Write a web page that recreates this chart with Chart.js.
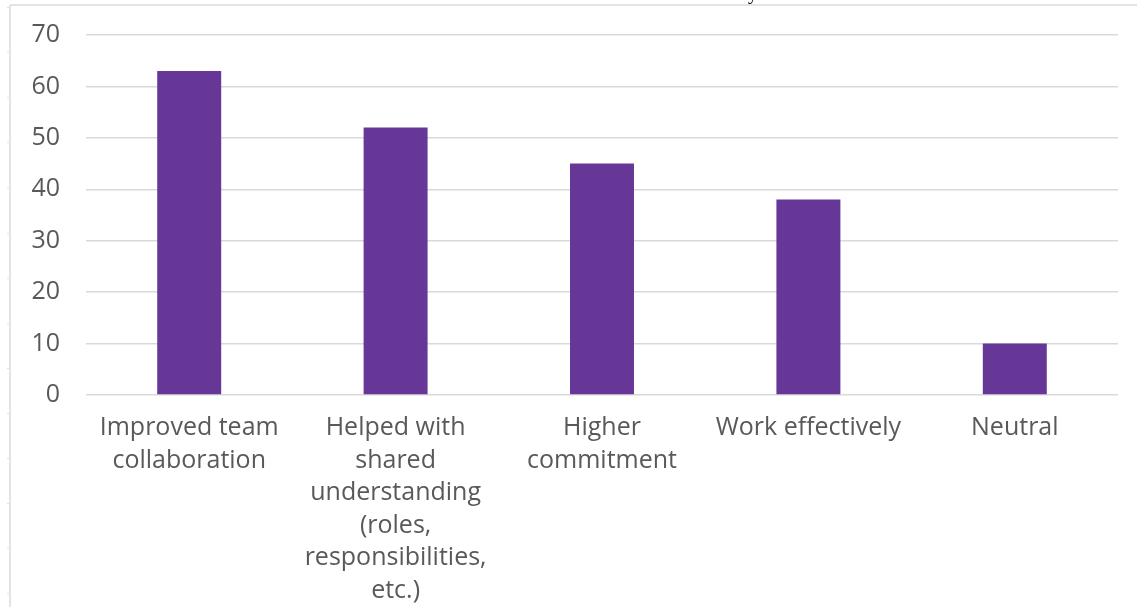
<!DOCTYPE html>
<html>
<head>
<meta charset="utf-8">
<script src="https://cdn.jsdelivr.net/npm/chart.js@4.4.1/dist/chart.umd.min.js"></script>
<style>
  html, body { margin: 0; padding: 0; background: #ffffff; }
  #wrap { width: 1137px; height: 607px; position: relative; }
</style>
</head>
<body>
<div id="wrap"><canvas id="chart"></canvas></div>
<script>
// Survey responses: perceived benefits
const categories = [
  ["Improved team", "collaboration"],
  ["Helped with", "shared", "understanding", "(roles,", "responsibilities,", "etc.)"],
  ["Higher", "commitment"],
  "Work effectively",
  "Neutral"
];
const responses = [63, 52, 45, 38, 10];
const yTicks = [0, 10, 20, 30, 40, 50, 60, 70];

const textGray = '#595959';
const gridGray = '#d9d9d9';
const barPurple = '#663797';

// Page frame: left rule with small marks, top rule, and a clipped heading glyph
const framePlugin = {
  id: 'pageFrame',
  beforeDraw(chart) {
    const ctx = chart.ctx;
    ctx.save();
    ctx.strokeStyle = '#dcdcdc';
    ctx.lineWidth = 1.5;
    ctx.beginPath();
    ctx.moveTo(10, 5);
    ctx.lineTo(10, 607);
    ctx.moveTo(10, 5);
    ctx.lineTo(1137, 5);
    ctx.stroke();
    ctx.lineWidth = 1;
    ctx.strokeStyle = '#e2e2e2';
    for (let y = 7; y < 607; y += 45.1) {
      ctx.beginPath();
      ctx.moveTo(7, Math.round(y) + 0.5);
      ctx.lineTo(10, Math.round(y) + 0.5);
      ctx.stroke();
    }
    ctx.fillStyle = '#000000';
    ctx.font = '20px "Liberation Serif"';
    ctx.textBaseline = 'alphabetic';
    ctx.fillText('y', 748, -1);
    ctx.restore();
  }
};

// Let the layout padding alone decide the plot area's edges
function dropScalePadding(scale) {
  scale.paddingTop = 0;
  scale.paddingBottom = 0;
}

new Chart(document.getElementById('chart'), {
  type: 'bar',
  data: {
    labels: categories,
    datasets: [{
      data: responses,
      backgroundColor: barPurple,
      borderWidth: 0,
      categoryPercentage: 1.0,
      barPercentage: 0.31
    }]
  },
  options: {
    responsive: true,
    maintainAspectRatio: false,
    animation: false,
    layout: { padding: { top: 35, right: 19, left: 0, bottom: 0 } },
    plugins: {
      legend: { display: false },
      tooltip: { enabled: false }
    },
    scales: {
      x: {
        grid: { display: false, drawTicks: false },
        border: { display: false },
        ticks: {
          color: textGray,
          font: { family: '"Open Sans"', size: 25, lineHeight: 1.3 },
          padding: 17,
          maxRotation: 0,
          autoSkip: false
        },
        afterFit(scale) { scale.height = 212; dropScalePadding(scale); }
      },
      y: {
        min: 0,
        max: 70,
        afterBuildTicks(scale) { scale.ticks = yTicks.map(v => ({ value: v })); },
        grid: { color: gridGray, lineWidth: 1.5, drawTicks: false },
        border: { display: false },
        ticks: {
          color: textGray,
          font: { family: '"Open Sans"', size: 25 },
          padding: 26
        },
        afterFit(scale) { scale.width = 86; dropScalePadding(scale); }
      }
    }
  },
  plugins: [framePlugin]
});
</script>
</body>
</html>
